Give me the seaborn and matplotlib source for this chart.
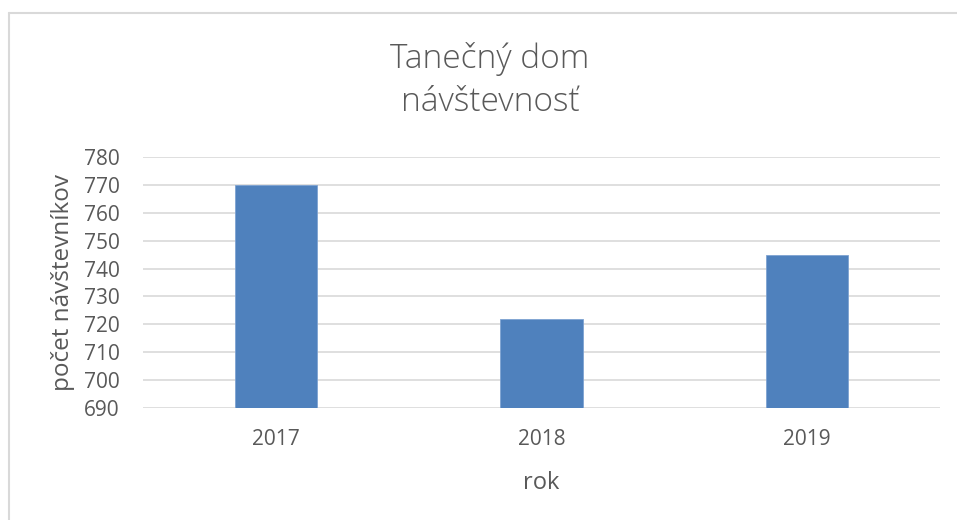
import seaborn as sns
import matplotlib.pyplot as plt
import pandas as pd
from matplotlib.lines import Line2D

# data
years = ['2017', '2018', '2019']
visitors = [770, 722, 745]
y_ticks = [690, 700, 710, 720, 730, 740, 750, 760, 770, 780]

df = pd.DataFrame({'rok': years, 'navstevnici': visitors})

sns.set_theme(style='white')
plt.rcParams['font.family'] = ['Open Sans', 'DejaVu Sans']
text_col = '#595959'

fig = plt.figure(figsize=(9.57, 5.2), dpi=100)
ax = fig.add_axes([143 / 957, 1 - 408 / 520, (940 - 143) / 957, (408 - 157) / 520])

sns.barplot(data=df, x='rok', y='navstevnici', color='#4F81BD', saturation=1,
            width=0.31, edgecolor='#7EA3D2', linewidth=0.6, ax=ax, zorder=3)

ax.set_ylim(690, 780)
ax.set_yticks(y_ticks)
ax.set_xlim(-0.5, 2.5)
ax.grid(axis='y', color='#D9D9D9', linewidth=1.2, zorder=0)
ax.set_axisbelow(True)
for s in ax.spines.values():
    s.set_visible(False)
ax.tick_params(axis='both', length=0, labelsize=15, labelcolor=text_col)
ax.tick_params(axis='x', pad=15)
ax.tick_params(axis='y', pad=17)

ax.set_xlabel('rok', fontsize=17, color=text_col, labelpad=15)
ax.set_ylabel('počet návštevníkov', fontsize=17.5, color=text_col, labelpad=6)

fig.text(490 / 957, 1 - 68 / 520, 'Tanečný dom', ha='center', va='baseline',
         fontsize=24, color=text_col, fontweight='light')
fig.text(490 / 957, 1 - 111 / 520, 'návštevnosť', ha='center', va='baseline',
         fontsize=24, color=text_col, fontweight='light')

# chart frame (only the left and top edges are visible in the crop)
fig.add_artist(Line2D([9 / 957, 9 / 957], [0, 1 - 13 / 520], transform=fig.transFigure,
                      color='#D9D9D9', linewidth=1.5))
fig.add_artist(Line2D([9 / 957, 1], [1 - 13 / 520, 1 - 13 / 520], transform=fig.transFigure,
                      color='#D9D9D9', linewidth=1.5))

fig.savefig('out.png', dpi=100)
